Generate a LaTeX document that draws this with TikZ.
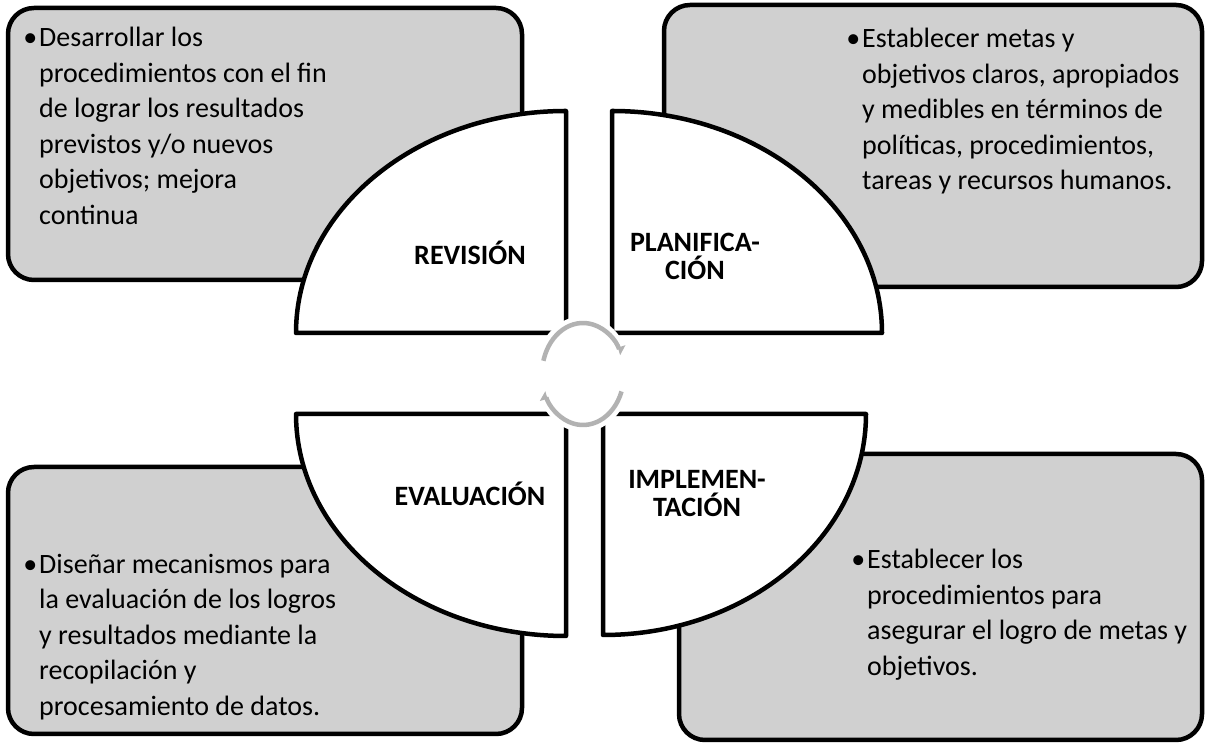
\documentclass[tikz,border=0pt]{standalone}
\usepackage{fontspec}
\setmainfont{Carlito}
\usetikzlibrary{arrows.meta}
\definecolor{grisboite}{RGB}{208,208,208}
\definecolor{grisfleche}{RGB}{178,178,178}

\begin{document}
\begin{tikzpicture}[x=1pt,y=1pt]
	\tikzstyle{boite}=[draw,line width=4.5pt,fill=grisboite,rounded corners=26pt,inner sep=0pt]
	\tikzstyle{quart}=[draw,line width=4.5pt,fill=white,line join=round]
	\tikzstyle{titre}=[font=\fontsize{28}{28}\selectfont\bfseries,align=center]
	\tikzstyle{texte}=[font=\fontsize{28}{35.5}\selectfont,align=left,anchor=north west,inner sep=0pt]
	\tikzstyle{fleche}=[draw=grisfleche,line width=4.5pt]
	\useasboundingbox (0,0) rectangle (1207,746);
	\node[boite,minimum width=514pt,minimum height=272pt] (boiteRev) at (265,602){};
	\node[boite,minimum width=538pt,minimum height=282pt] (boitePlan) at (933,600){};
	\node[boite,minimum width=514pt,minimum height=267pt] (boiteEval) at (265,145.5){};
	\node[boite,minimum width=523pt,minimum height=286pt] (boiteImpl) at (940.5,149){};
	\draw[quart] (566,413) -- (296,413) arc[start angle=180,end angle=90,x radius=270,y radius=222] -- cycle;
	\draw[quart] (612,413) -- (612,635) arc[start angle=90,end angle=0,x radius=270,y radius=222] -- cycle;
	\draw[quart] (566,332) -- (296,332) arc[start angle=180,end angle=270,x radius=270,y radius=222] -- cycle;
	\draw[quart] (603,332) -- (866,332) arc[start angle=0,end angle=-90,x radius=263,y radius=221] -- cycle;
	\coordinate (centre) at (583,372);
	\fill[white] (centre) ellipse[x radius=48,y radius=58];
	\draw[fleche,-{Triangle[left,length=7pt,width=14pt]}] ([shift={(165:41pt and 51pt)}]centre) arc[start angle=165,end angle=22,x radius=41,y radius=51];
	\draw[fleche,-{Triangle[left,length=7pt,width=14pt]}] ([shift={(340:41pt and 51pt)}]centre) arc[start angle=340,end angle=200,x radius=41,y radius=51];
	\node[titre] (revision) at (470,493){REVISIÓN};
	\node[titre] (planif) at (695,490){PLANIFICA-\\CIÓN};
	\node[titre] (evaluacion) at (470,252){EVALUACIÓN};
	\node[titre] (implem) at (697,252){IMPLEMEN-\\TACIÓN};
	\node[texte] (txtRev) at (39,719){\llap{•\kern2pt}Desarrollar los\\procedimientos con el fin\\de lograr los resultados\\previstos y/o nuevos\\objetivos; mejora\\continua};
	\node[texte] (txtPlan) at (862,718){\llap{•\kern2pt}Establecer metas y\\objetivos claros, apropiados\\y medibles en términos de\\políticas, procedimientos,\\tareas y recursos humanos.};
	\node[texte] (txtEval) at (39,192){\llap{•\kern2pt}Diseñar mecanismos para\\la evaluación de los logros\\y resultados mediante la\\recopilación y\\procesamiento de datos.};
	\node[texte] (txtImpl) at (867,197){\llap{•\kern2pt}Establecer los\\procedimientos para\\asegurar el logro de metas y\\objetivos.};
\end{tikzpicture}
\end{document}
